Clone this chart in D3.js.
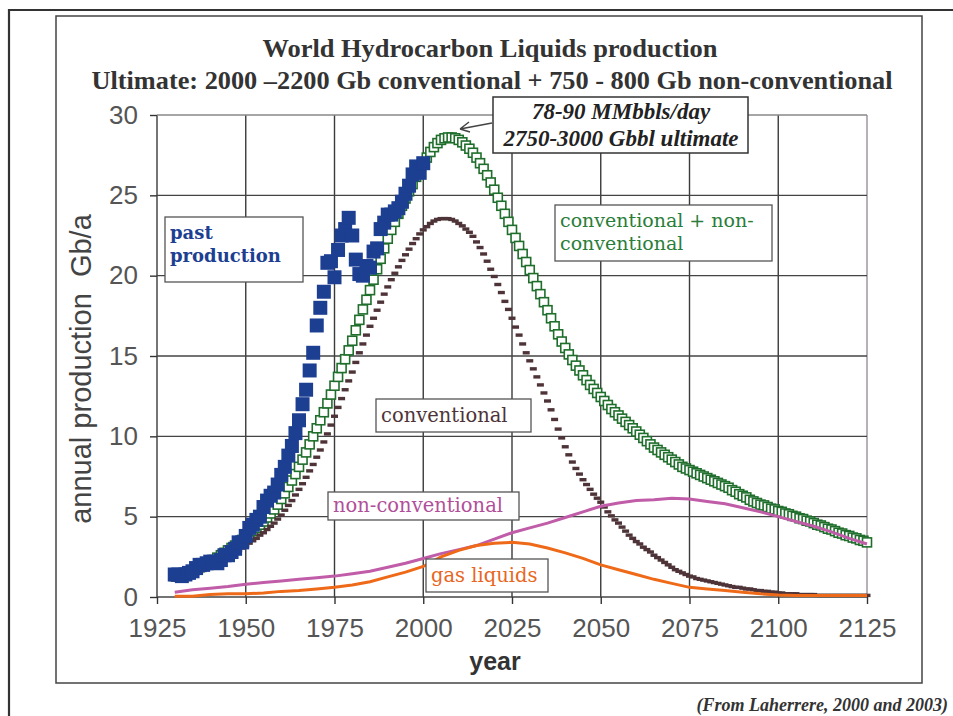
<!DOCTYPE html>
<html><head><meta charset="utf-8">
<script src="https://cdn.jsdelivr.net/npm/d3@7"></script>
<style>body{margin:0;background:#fff}svg{display:block}</style>
</head><body>
<script>
// ---- data (Gb per year) ----
const pastStart = 1930;
const pastProduction = [
  1.4,1.4,1.3,1.4,1.5,1.6,1.8,2.0,2.0,2.1,
  2.2,2.2,2.1,2.3,2.6,2.6,2.8,3.0,3.4,3.4,
  3.8,4.3,4.5,4.8,5.0,5.6,6.0,6.3,6.5,7.0,
  7.6,8.1,8.8,9.4,10.2,11.0,12.0,12.9,14.1,15.2,
  16.9,18.0,19.0,20.8,20.9,19.9,21.6,22.5,22.9,23.6,
  22.5,21.0,20.1,20.0,20.6,20.5,21.5,21.7,22.9,23.3,
  23.8,23.8,24.0,24.2,24.6,25.1,25.6,26.3,26.8,26.4,
  27.0
];
const modelStart = 1930;
// conventional + non-conventional
const totalLiquids = [
  1.3,1.35,1.4,1.5,1.55,1.65,1.75,1.85,1.95,2.05,
  2.2,2.3,2.45,2.6,2.75,2.9,3.05,3.2,3.4,3.55,
  3.7,3.9,4.1,4.3,4.5,4.7,4.95,5.2,5.45,5.75,
  6.1,6.45,6.85,7.25,7.65,8.1,8.55,9.0,9.5,10.0,
  10.5,11.0,11.5,12.05,12.6,13.15,13.7,14.25,14.8,15.35,
  15.95,16.6,17.25,17.9,18.5,19.1,19.75,20.4,21.05,21.7,
  22.3,22.85,23.35,23.85,24.35,24.8,25.25,25.7,26.15,26.6,
  27.0,27.35,27.7,28.0,28.25,28.45,28.55,28.6,28.6,28.55,
  28.45,28.3,28.1,27.9,27.65,27.35,27.0,26.65,26.25,25.8,
  25.35,24.85,24.35,23.85,23.35,22.85,22.35,21.85,21.35,20.85,
  20.35,19.85,19.35,18.85,18.35,17.85,17.35,16.85,16.35,15.9,
  15.5,15.1,14.75,14.4,14.1,13.8,13.5,13.2,12.95,12.7,
  12.45,12.2,11.95,11.7,11.5,11.3,11.1,10.9,10.7,10.5,
  10.3,10.1,9.9,9.7,9.5,9.3,9.15,9.0,8.85,8.7,
  8.55,8.4,8.25,8.1,8.0,7.9,7.8,7.7,7.6,7.5,
  7.4,7.3,7.2,7.1,7.0,6.9,6.8,6.65,6.55,6.4,
  6.3,6.2,6.05,5.95,5.85,5.75,5.7,5.6,5.5,5.45,
  5.35,5.3,5.2,5.15,5.05,5.0,4.9,4.85,4.75,4.7,
  4.6,4.5,4.45,4.35,4.25,4.2,4.1,4.0,3.95,3.85,
  3.8,3.7,3.65,3.55,3.5,3.4
];
const conventional = [
  1.05,1.1,1.1,1.15,1.25,1.35,1.45,1.55,1.65,1.75,
  1.85,1.95,2.05,2.2,2.3,2.45,2.6,2.75,2.9,3.05,
  3.2,3.35,3.5,3.65,3.85,4.0,4.2,4.4,4.6,4.85,
  5.1,5.4,5.7,6.0,6.35,6.7,7.05,7.45,7.85,8.25,
  8.7,9.15,9.65,10.15,10.7,11.25,11.8,12.35,12.9,13.45,
  14.0,14.6,15.2,15.75,16.3,16.85,17.35,17.85,18.35,18.85,
  19.3,19.75,20.15,20.55,20.95,21.3,21.65,22.0,22.3,22.6,
  22.85,23.05,23.25,23.4,23.5,23.55,23.55,23.55,23.5,23.4,
  23.25,23.1,22.9,22.7,22.45,22.1,21.75,21.35,20.9,20.4,
  19.95,19.45,18.95,18.4,17.9,17.35,16.8,16.3,15.75,15.2,
  14.7,14.2,13.7,13.2,12.7,12.2,11.65,11.05,10.45,9.9,
  9.35,8.85,8.4,8.0,7.65,7.3,7.0,6.7,6.4,6.15,
  5.9,5.6,5.3,5.05,4.8,4.6,4.35,4.1,3.85,3.65,
  3.45,3.3,3.1,2.95,2.8,2.6,2.45,2.3,2.15,2.0,
  1.85,1.7,1.6,1.5,1.4,1.3,1.25,1.15,1.1,1.05,
  1.0,0.95,0.9,0.85,0.8,0.75,0.7,0.65,0.6,0.6,
  0.55,0.5,0.5,0.45,0.4,0.4,0.35,0.35,0.3,0.3,
  0.25,0.25,0.2,0.2,0.2,0.2,0.15,0.15,0.15,0.15,
  0.15,0.1,0.1,0.1,0.1,0.1,0.1,0.1,0.1,0.1,
  0.1,0.1,0.1,0.1,0.1,0.1
];
// five-yearly values, 1930-2125
const lineYears = [1930,1935,1940,1945,1950,1955,1960,1965,1970,1975,
  1980,1985,1990,1995,2000,2005,2010,2015,2020,2025,
  2030,2035,2040,2045,2050,2055,2060,2065,2070,2075,
  2080,2085,2090,2095,2100,2105,2110,2115,2120,2125];
const nonConventional = [0.3,0.45,0.55,0.65,0.8,0.9,1.0,1.1,1.2,1.3,
  1.45,1.6,1.85,2.1,2.4,2.7,2.95,3.2,3.6,4.0,
  4.3,4.6,4.95,5.3,5.65,5.85,6.0,6.05,6.15,6.1,
  5.95,5.8,5.55,5.3,5.0,4.7,4.4,4.05,3.65,3.3];
const gasLiquids = [0.05,0.05,0.15,0.2,0.2,0.25,0.35,0.4,0.5,0.6,
  0.75,0.95,1.25,1.55,1.9,2.5,2.9,3.2,3.35,3.4,
  3.3,3.05,2.75,2.4,2.0,1.7,1.4,1.1,0.85,0.6,
  0.5,0.4,0.3,0.2,0.13,0.1,0.1,0.1,0.1,0.1];

const xTicks = [1925,1950,1975,2000,2025,2050,2075,2100,2125];
const yTicks = [0,5,10,15,20,25,30];

// ---- layout ----
const W = 953, H = 716;
const svg = d3.select("body").append("svg").attr("width", W).attr("height", H);
svg.append("rect").attr("width", W).attr("height", H).attr("fill", "#fff");

const x = d3.scaleLinear().domain([1925, 2125]).range([157, 867]);
const y = d3.scaleLinear().domain([0, 30]).range([597, 115]);

// outer page border and chart frame
svg.append("path").attr("d", `M9,${H} V10 H${W}`).attr("fill","none")
  .attr("stroke","#333").attr("stroke-width",2.2);
svg.append("rect").attr("x",56).attr("y",16).attr("width",866).attr("height",667)
  .attr("fill","none").attr("stroke","#444").attr("stroke-width",1.5);

// titles
const title = svg.append("g").attr("font-family","'Liberation Serif','Times New Roman',serif")
  .attr("font-weight","bold").attr("fill","#333").attr("text-anchor","middle");
title.append("text").attr("x",490).attr("y",57).attr("font-size",26)
  .attr("textLength",455).attr("lengthAdjust","spacingAndGlyphs")
  .text("World Hydrocarbon Liquids production");
title.append("text").attr("x",492).attr("y",89).attr("font-size",26)
  .attr("textLength",801).attr("lengthAdjust","spacingAndGlyphs")
  .text("Ultimate: 2000 \u20132200 Gb conventional + 750 - 800 Gb non-conventional");

// grid
const grid = svg.append("g");
grid.selectAll("line.v").data(xTicks).join("line")
  .attr("x1", d => x(d)).attr("x2", d => x(d))
  .attr("y1", y(30)).attr("y2", y(0))
  .attr("stroke", d => d === 2125 ? "#9a8f9a" : "#3a3a3a").attr("stroke-width", 1.4);
grid.selectAll("line.h").data(yTicks).join("line")
  .attr("x1", x(1925)).attr("x2", x(2125))
  .attr("y1", d => y(d)).attr("y2", d => y(d))
  .attr("stroke", d => d === 30 ? "#888" : "#444").attr("stroke-width", 1.4);

// axes (ticks and labels)
const tickFont = "'Liberation Sans',Arial,sans-serif";
const yAxis = svg.append("g").attr("transform", `translate(${x(1925)},0)`)
  .call(d3.axisLeft(y).tickValues(yTicks).tickSize(7).tickPadding(12));
const xAxis = svg.append("g").attr("transform", `translate(0,${y(0)})`)
  .call(d3.axisBottom(x).tickValues(xTicks).tickFormat(d3.format("d")).tickSize(7).tickPadding(15));
[yAxis, xAxis].forEach(a => {
  a.select(".domain").remove();
  a.selectAll(".tick line").attr("stroke","#333").attr("stroke-width",1.4);
  a.selectAll(".tick text").attr("font-family", tickFont).attr("font-size", 26).attr("fill","#555");
});

svg.append("text").attr("transform","translate(91,369) rotate(-90)")
  .attr("text-anchor","middle").attr("font-family",tickFont).attr("font-size",29)
  .attr("fill","#444").style("white-space","pre").text("annual production  Gb/a");
svg.append("text").attr("x",495).attr("y",670).attr("text-anchor","middle")
  .attr("font-family",tickFont).attr("font-weight","bold").attr("font-size",25)
  .attr("fill","#333").text("year");

// ---- series ----
const modelRows = totalLiquids.map((v, i) => ({ year: modelStart + i, total: v, conv: conventional[i] }));
const pastRows = pastProduction.map((v, i) => ({ year: pastStart + i, value: v }));
const lineRows = lineYears.map((yr, i) => ({ year: yr, nc: nonConventional[i], gas: gasLiquids[i] }));

// conventional + non-conventional: hollow green squares
const gs = 9;
svg.append("g").selectAll("rect").data(modelRows).join("rect")
  .attr("x", d => x(d.year) - gs/2).attr("y", d => y(d.total) - gs/2)
  .attr("width", gs).attr("height", gs)
  .attr("fill","#fff").attr("stroke","#1f6e2c").attr("stroke-width",1.6);

// conventional: short dark dashes
svg.append("g").selectAll("rect").data(modelRows).join("rect")
  .attr("x", d => x(d.year) - 3.5).attr("y", d => y(d.conv) - 1.7)
  .attr("width", 7).attr("height", 3.4).attr("fill","#4e3438");

// past production: filled blue squares
const bs = 14;
svg.append("g").selectAll("rect").data(pastRows).join("rect")
  .attr("x", d => x(d.year) - bs/2).attr("y", d => y(d.value) - bs/2)
  .attr("width", bs).attr("height", bs).attr("fill","#1d3f92");

// non-conventional and gas liquids lines
const ncLine = d3.line().x(d => x(d.year)).y(d => y(d.nc));
const gasLine = d3.line().x(d => x(d.year)).y(d => y(d.gas));
svg.append("path").datum(lineRows).attr("d", ncLine).attr("fill","none")
  .attr("stroke","#c05ca8").attr("stroke-width",3);
svg.append("path").datum(lineRows).attr("d", gasLine).attr("fill","none")
  .attr("stroke","#ee6a18").attr("stroke-width",3);

// ---- labels ----
const serif = "'DejaVu Serif',serif";
function labelBox(bx, by, bw, bh, lines, color, bold, fs) {
  const g = svg.append("g");
  g.append("rect").attr("x",bx).attr("y",by).attr("width",bw).attr("height",bh)
    .attr("fill","#fff").attr("stroke","#555").attr("stroke-width",1.3);
  lines.forEach((t, i) => {
    g.append("text").attr("x", bx + 5).attr("y", by + (lines.length > 1 ? 22 + i*23 : bh/2 + 6))
      .attr("font-family", serif).attr("font-size", fs).attr("font-weight", bold ? "bold" : "normal")
      .attr("fill", color).text(t);
  });
}
labelBox(165, 217, 138, 65, ["past", "production"], "#1d3f92", true, 18);
labelBox(555, 205, 217, 56, ["conventional + non-", "conventional"], "#2b7d3a", false, 19);
labelBox(376, 399, 155, 33, ["conventional"], "#4e3438", false, 19.5);
labelBox(328, 492, 191, 28, ["non-conventional"], "#b0509a", false, 19.5);
labelBox(426, 559, 122, 33, ["gas liquids"], "#e8661e", false, 19.5);

// peak annotation with arrow
const ann = svg.append("g");
ann.append("rect").attr("x",493).attr("y",97).attr("width",255).attr("height",56)
  .attr("fill","#fff").attr("stroke","#333").attr("stroke-width",1.5);
ann.selectAll("text").data(["78-90 MMbbls/day", "2750-3000 Gbbl ultimate"]).join("text")
  .attr("x", 621).attr("y", (d, i) => 119 + i*27).attr("text-anchor","middle")
  .attr("font-family","'Liberation Serif','Times New Roman',serif")
  .attr("font-style","italic").attr("font-weight","bold").attr("font-size",23)
  .attr("fill","#222").text(d => d);
ann.append("path").attr("d","M492,123 L460,129 M460,129 l9,-7 M460,129 l10,3")
  .attr("fill","none").attr("stroke","#444").attr("stroke-width",1.5);

// source note
svg.append("text").attr("x",948).attr("y",711).attr("text-anchor","end")
  .attr("font-family","'Liberation Serif','Times New Roman',serif")
  .attr("font-style","italic").attr("font-weight","bold").attr("font-size",18)
  .attr("fill","#333").text("(From Laherrere, 2000 and 2003)");
</script>
</body></html>
